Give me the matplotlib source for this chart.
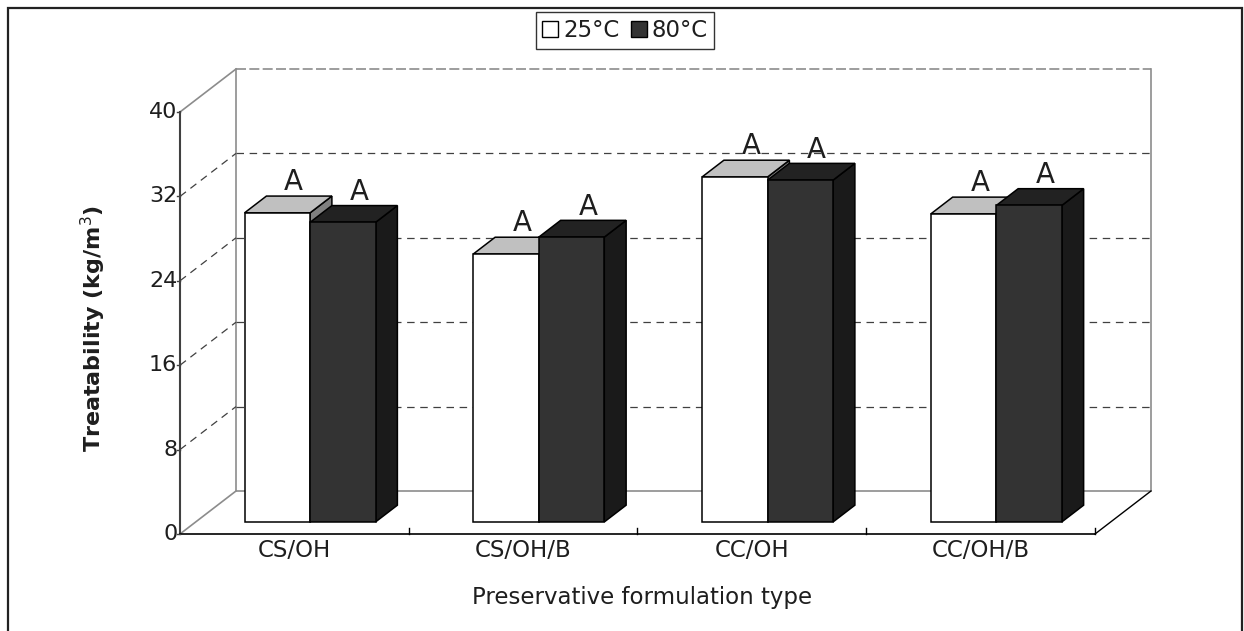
import matplotlib
matplotlib.use('Agg')
import matplotlib.pyplot as plt
from matplotlib.patches import Polygon, Rectangle, Patch

plt.rcParams['font.family'] = ['DejaVu Sans']

# data
categories = ['CS/OH', 'CS/OH/B', 'CC/OH', 'CC/OH/B']
temp_25 = [29.3, 25.4, 32.7, 29.2]
temp_80 = [28.4, 27.0, 32.4, 30.0]
letters_25 = ['A', 'A', 'A', 'A']
letters_80 = ['A', 'A', 'A', 'A']
yticks = [0, 8, 16, 24, 32, 40]
series_names = ['25°C', '80°C']

# 3d look: depth offset of the back wall in data units
DX, DY = 0.2448, 4.076
D0, D1 = 0.28, 0.67          # bar depth range (fraction of the full depth)
BW = 0.2863                  # one bar width (category units)
YMAX = 40

front_cols = ['#ffffff', '#333333']
top_cols = ['#c0c0c0', '#222222']
side_cols = ['#808080', '#1a1a1a']
txt_col = '#1e1e1e'

fig = plt.figure(figsize=(12.44, 6.31), dpi=100)
ax = fig.add_axes([0, 0, 1, 1])
ax.set_xlim(-180 / 228.75, (1244 - 180) / 228.75)
ax.set_ylim(-(631 - 534) / 10.55, 534 / 10.55)
ax.axis('off')

n = len(categories)
grid_kw = dict(color='#404040', lw=0.9, ls=(0, (6, 4.5)), zorder=1)
wall_kw = dict(color='#8c8c8c', lw=1.2, zorder=1)

# back wall + floor + left wall edges
ax.plot([DX, DX, n + DX, n + DX], [DY + YMAX, DY, DY, DY + YMAX], **wall_kw)
ax.plot([DX, n + DX], [DY + YMAX, DY + YMAX], color='#8c8c8c', lw=1.2,
        ls=(0, (6, 2)), zorder=1)
ax.plot([0, DX], [YMAX, YMAX + DY], **wall_kw)
ax.plot([0, DX], [0, DY], **wall_kw)
ax.plot([n, n + DX], [0, DY], color='black', lw=1.0, zorder=1)

# gridlines on left and back walls
for v in yticks[1:-1]:
    ax.plot([0, DX], [v, v + DY], **grid_kw)
    ax.plot([DX, n + DX], [v + DY, v + DY], **grid_kw)

# front axes
ax.plot([0, 0], [0, YMAX], color='#404040', lw=1.5, zorder=2)
ax.plot([0, n], [0, 0], color='black', lw=1.2, zorder=2)
for i in range(1, n + 1):
    ax.plot([i, i], [0, 0.55], color='black', lw=1.0, zorder=2)
for v in yticks:
    ax.plot([-0.015, 0], [v, v], color='#404040', lw=1.0, zorder=2)
    ax.text(-0.012, v, str(v), ha='right', va='center', fontsize=16,
            color=txt_col)

for i, cat in enumerate(categories):
    ax.text(i + 0.5, -1.6, cat, ha='center', va='center', fontsize=16.5,
            color=txt_col)

ax.text(2.02, -6.05, 'Preservative formulation type', ha='center',
        va='center', fontsize=16.5, color=txt_col)
ax.text(-0.38, 19.5, 'Treatability (kg/m$^3$)', ha='center', va='center',
        rotation=90, fontsize=16, fontweight='bold', color=txt_col)

# bars
ddx, ddy = DX * (D1 - D0), DY * (D1 - D0)
yb = DY * D0
for i in range(n):
    for j, (vals, marks) in enumerate([(temp_25, letters_25), (temp_80, letters_80)]):
        v = vals[i]
        x0 = i + 0.5 - BW + j * BW + DX * D0
        x1 = x0 + BW
        ec = dict(edgecolor='black', lw=1.1, joinstyle='miter', zorder=3 + i * 2 + j)
        ax.add_patch(Polygon([(x1, yb), (x1 + ddx, yb + ddy), (x1 + ddx, yb + v + ddy),
                              (x1, yb + v)], facecolor=side_cols[j], **ec))
        ax.add_patch(Polygon([(x0, yb + v), (x1, yb + v), (x1 + ddx, yb + v + ddy),
                              (x0 + ddx, yb + v + ddy)], facecolor=top_cols[j], **ec))
        ax.add_patch(Rectangle((x0, yb), BW, v, facecolor=front_cols[j], **ec))
        ax.text(x0 + BW / 2 + ddx * 0.75, yb + v + ddy + 0.55, marks[i],
                ha='center', va='baseline', fontsize=20, color=txt_col,
                zorder=20)

# legend
handles = [Patch(facecolor=c, edgecolor='black', lw=1.0) for c in front_cols]
leg = fig.legend(handles, series_names, loc='upper center',
                 bbox_to_anchor=(0.5024, 0.981), ncol=2, fontsize=16.5,
                 frameon=True, fancybox=False, edgecolor='black',
                 handlelength=0.7, handleheight=0.7, handletextpad=0.2,
                 columnspacing=0.5, borderpad=0.3, borderaxespad=0)
leg.get_frame().set_linewidth(1.0)
for t in leg.get_texts():
    t.set_color(txt_col)

# outer frame
fig.add_artist(Rectangle((8 / 1244, -0.05), (1242 - 8) / 1244, 1.05 - 8 / 631,
                         transform=fig.transFigure, fill=False,
                         edgecolor='#222222', lw=1.6))

fig.savefig('out.png', dpi=100)
